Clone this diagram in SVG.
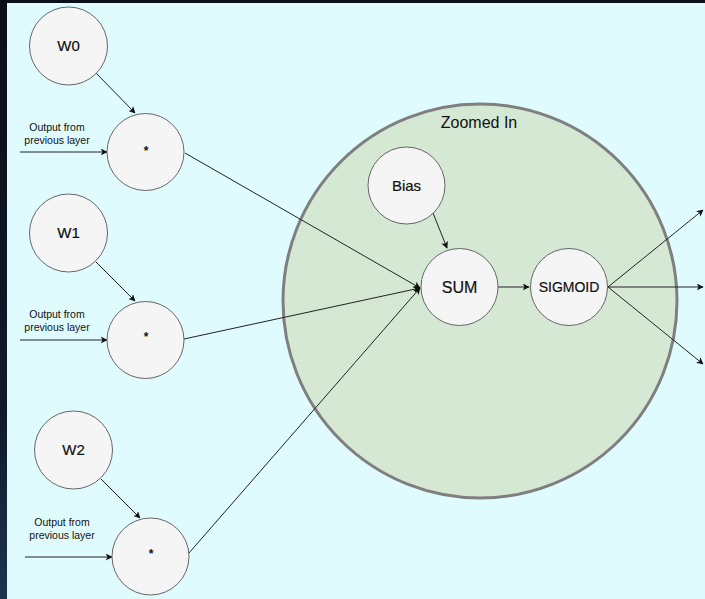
<svg xmlns="http://www.w3.org/2000/svg" width="705" height="599" viewBox="0 0 705 599">
  <style>
    .node { fill: #f5f5f5; stroke: #666666; stroke-width: 1; }
    .lbl { font-family: "Liberation Sans", Arial, Helvetica, sans-serif; fill: #111111; text-anchor: middle; }
    .heavy { stroke: #111111; stroke-width: 0.2; }
    .w { font-size: 15px; }
    .small { font-size: 10.5px; }
    .star { font-size: 12px; font-weight: bold; }
    .edge { stroke: #222222; stroke-width: 1; fill: none; marker-end: url(#arrow); }
  </style>
  <defs>
    <marker id="arrow" viewBox="0 0 10 10" refX="9" refY="5" markerWidth="7" markerHeight="7" markerUnits="userSpaceOnUse" orient="auto">
      <path d="M0,0 L10,5 L0,10 L2.5,5 Z" fill="#111111"/>
    </marker>
    <linearGradient id="frame" x1="0" y1="0" x2="0" y2="1">
      <stop offset="0" stop-color="#0b0f18"/>
      <stop offset="0.7" stop-color="#101a2a"/>
      <stop offset="1" stop-color="#1c3550"/>
    </linearGradient>
  </defs>

  <!-- dark frame and page -->
  <rect x="0" y="0" width="705" height="599" fill="url(#frame)"/>
  <rect x="7" y="3" width="698" height="596" fill="#e0fbfe"/>

  <!-- zoomed-in neuron region -->
  <g id="zoom-region">
    <circle cx="480" cy="301" r="197" fill="#d5e8d4" stroke="#7f7f7f" stroke-width="3"/>
    <text class="lbl" x="479" y="128" font-size="16">Zoomed In</text>
  </g>

  <!-- connectors -->
  <g id="connectors">
    <line class="edge" x1="96" y1="73" x2="135" y2="113"/>
    <line class="edge" x1="20" y1="152" x2="107" y2="152"/>
    <line class="edge" x1="96" y1="262" x2="135" y2="301"/>
    <line class="edge" x1="20" y1="340" x2="107" y2="340"/>
    <line class="edge" x1="101" y1="479" x2="140" y2="518"/>
    <line class="edge" x1="25" y1="557" x2="112" y2="557"/>
    <line class="edge" x1="185" y1="153" x2="420" y2="288"/>
    <line class="edge" x1="184" y1="339" x2="420" y2="288"/>
    <line class="edge" x1="189" y1="553" x2="420" y2="288"/>
    <line class="edge" x1="433" y1="213" x2="447" y2="248"/>
    <line class="edge" x1="498" y1="287" x2="529" y2="287"/>
    <line class="edge" x1="608" y1="287" x2="703" y2="210"/>
    <line class="edge" x1="608" y1="287" x2="703" y2="287"/>
    <line class="edge" x1="608" y1="287" x2="703" y2="364"/>
  </g>

  <!-- input labels -->
  <g id="input-labels">
    <text class="lbl small" x="57" y="131">Output from</text>
    <text class="lbl small" x="57" y="144">previous layer</text>
    <text class="lbl small" x="57" y="318">Output from</text>
    <text class="lbl small" x="57" y="331">previous layer</text>
    <text class="lbl small" x="62" y="526">Output from</text>
    <text class="lbl small" x="62" y="539">previous layer</text>
  </g>

  <g id="w0">
    <circle class="node" cx="68.5" cy="46" r="39"/>
    <text class="lbl w heavy" x="68.5" y="51">W0</text>
  </g>
  <g id="mul0">
    <circle class="node" cx="145.5" cy="152" r="38.5"/>
    <text class="lbl star" x="146" y="155">*</text>
  </g>
  <g id="w1">
    <circle class="node" cx="68.5" cy="233" r="39"/>
    <text class="lbl w heavy" x="68.5" y="238">W1</text>
  </g>
  <g id="mul1">
    <circle class="node" cx="145.5" cy="340" r="38.5"/>
    <text class="lbl star" x="146" y="341">*</text>
  </g>
  <g id="w2">
    <circle class="node" cx="73.5" cy="450" r="39"/>
    <text class="lbl w heavy" x="73.5" y="455">W2</text>
  </g>
  <g id="mul2">
    <circle class="node" cx="150.5" cy="556.5" r="38.5"/>
    <text class="lbl star" x="151" y="558">*</text>
  </g>
  <g id="bias">
    <circle class="node" cx="406.5" cy="185.5" r="38.5"/>
    <text class="lbl heavy" x="406.5" y="190.5" font-size="15">Bias</text>
  </g>
  <g id="sum">
    <circle class="node" cx="459.5" cy="287" r="38.5"/>
    <text class="lbl heavy" x="459.5" y="293" font-size="16">SUM</text>
  </g>
  <g id="sigmoid">
    <circle class="node" cx="569" cy="287" r="38.5"/>
    <text class="lbl heavy" x="569" y="292" font-size="14">SIGMOID</text>
  </g>
</svg>
